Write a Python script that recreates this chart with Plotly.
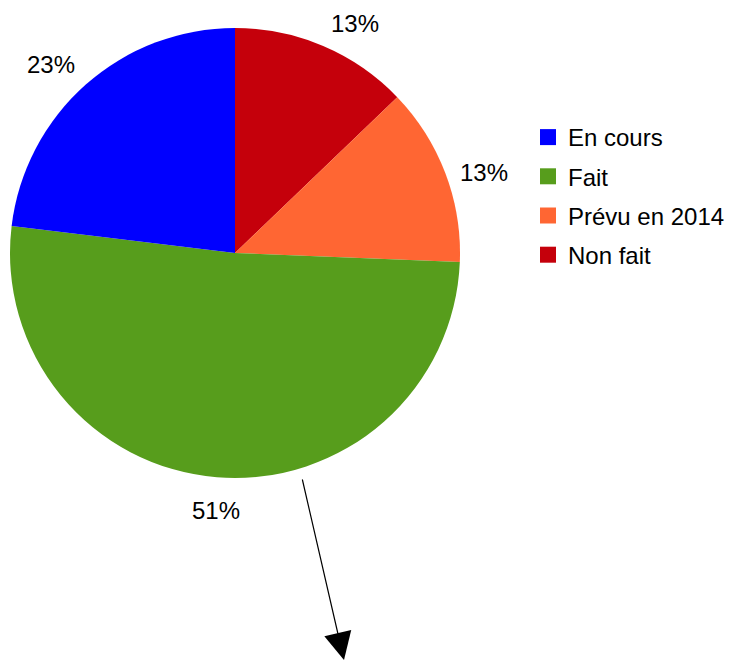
import math
import plotly.graph_objects as go

categories = ["En cours", "Fait", "Prévu en 2014", "Non fait"]
counts = [9, 20, 5, 5]
colors = ["#0000FF", "#579D1C", "#FF6633", "#C5000B"]

W, H = 732, 661
cx, cy, R = 235, 253, 225  # pie centre / radius in pixels
FONT = "Liberation Sans, Arial, sans-serif"

fig = go.Figure()
# slices run counter-clockwise from 12 o'clock in legend order;
# drawn clockwise with the order reversed
fig.add_trace(go.Pie(
    labels=categories[::-1], values=counts[::-1], sort=False, direction="clockwise",
    rotation=0, marker=dict(colors=colors[::-1], line=dict(width=0)),
    textinfo="none", hoverinfo="label+percent", showlegend=False,
    domain=dict(x=[(cx - R) / W, (cx + R) / W], y=[1 - (cy + R) / H, 1 - (cy - R) / H]),
))

# legend entries
for i, (c, col) in enumerate(zip(categories, colors)):
    fig.add_trace(go.Scatter(x=[None], y=[None], mode="markers", name=c,
                             legendgroup=f"g{i}",
                             marker=dict(symbol="square", size=16, color=col)))

# percentage labels outside the slices (counter-clockwise from 12 o'clock)
total = sum(counts)
cum = 0
annotations = []
for v in counts:
    frac = v / total
    mid = cum + frac / 2
    cum += frac
    th = math.radians(90 + mid * 360)
    rr = R + 14
    co, si = math.cos(th), math.sin(th)
    px = cx + rr * co
    py = cy - rr * si + 4
    xa = "left" if co > 0.1 else ("right" if co < -0.1 else "center")
    ya = "bottom" if si > 0.5 else ("top" if si < -0.5 else "middle")
    if ya == "bottom":
        py += 2
    annotations.append(dict(x=px / W, y=1 - py / H, xref="paper", yref="paper",
                            text=f"{round(frac * 100)}%", showarrow=False,
                            xanchor=xa, yanchor=ya,
                            font=dict(size=24, color="black", family=FONT)))

# arrow
annotations.append(dict(x=344 / W, y=1 - 660 / H, xref="paper", yref="paper",
                        ax=-42, ay=-182, axref="pixel", ayref="pixel",
                        showarrow=True, arrowhead=2, arrowsize=4.6, arrowwidth=1.2,
                        arrowcolor="black", text=""))

fig.update_layout(
    width=W, height=H, margin=dict(l=0, r=0, t=0, b=0, autoexpand=False),
    paper_bgcolor="white", plot_bgcolor="white",
    xaxis=dict(visible=False), yaxis=dict(visible=False),
    showlegend=True,
    legend=dict(x=528 / W, y=1 - 115 / H, xanchor="left", yanchor="top",
                font=dict(size=24, color="black", family=FONT),
                tracegroupgap=5, bgcolor="rgba(0,0,0,0)"),
    annotations=annotations,
)
fig.write_html("out.html", config={"displayModeBar": False},
               post_script="document.body.style.margin='0';")
